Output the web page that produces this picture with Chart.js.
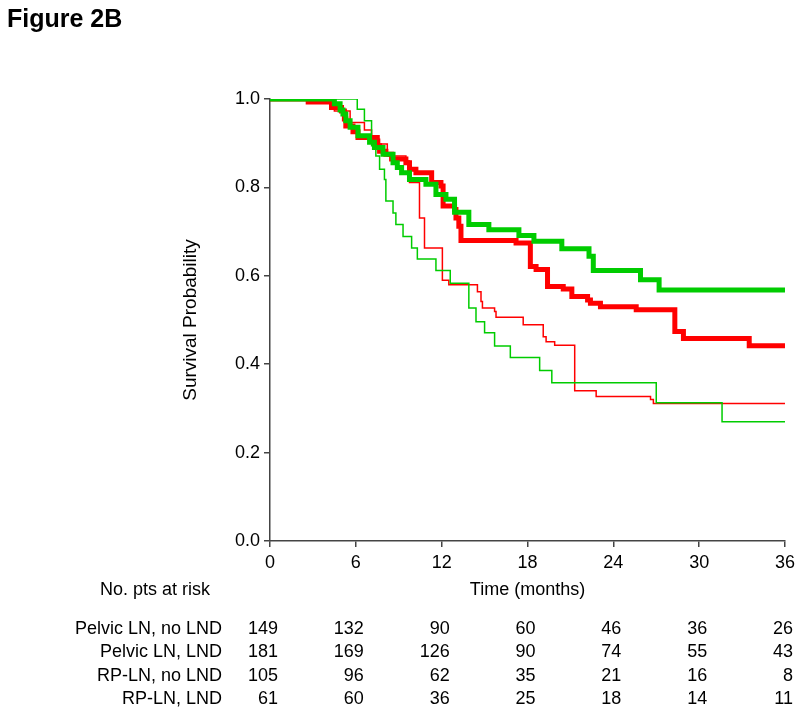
<!DOCTYPE html>
<html>
<head>
<meta charset="utf-8">
<title>Figure 2B</title>
<script src="https://cdn.jsdelivr.net/npm/chart.js@4.4.1/dist/chart.umd.min.js"></script>
<style>
  html, body { margin: 0; padding: 0; background: #fff; }
  #wrap { width: 800px; height: 719px; position: relative; }
</style>
</head>
<body>
<div id="wrap"><canvas id="myChart" width="800" height="719"></canvas></div>
<script>
// Kaplan-Meier steps (month, survival after that month)
const pelvicLndMonths = [0, 4.5, 4.9, 5.1, 5.3, 5.6, 6.15, 6.96, 7.3, 7.9, 8.6, 8.9, 9.2, 9.75, 10.9, 11.6, 12.3, 12.9, 13.9, 15.3, 17.4, 18.45, 20.4, 22.3, 22.6, 25.9, 27.2, 36];
const pelvicLndSurv   = [1.0, 0.989, 0.975, 0.966, 0.951, 0.936, 0.917, 0.902, 0.89, 0.875, 0.856, 0.845, 0.833, 0.818, 0.807, 0.784, 0.773, 0.744, 0.716, 0.704, 0.691, 0.678, 0.661, 0.644, 0.612, 0.591, 0.568, 0.568];

const pelvicNoLndMonths = [0, 2.67, 4.3, 5.0, 5.2, 5.3, 5.8, 6.15, 7.5, 7.66, 8.1, 8.5, 9.5, 9.75, 10.2, 11.3, 11.95, 12.1, 12.9, 13.0, 13.2, 13.35, 17.2, 18.2, 18.6, 19.4, 20.5, 21.1, 22.2, 22.4, 23.1, 25.6, 28.3, 28.9, 33.5, 36];
const pelvicNoLndSurv   = [1.0, 0.993, 0.981, 0.973, 0.955, 0.939, 0.926, 0.913, 0.894, 0.882, 0.875, 0.864, 0.856, 0.841, 0.833, 0.811, 0.803, 0.758, 0.75, 0.731, 0.712, 0.68, 0.674, 0.621, 0.614, 0.576, 0.57, 0.553, 0.545, 0.538, 0.53, 0.523, 0.474, 0.458, 0.442, 0.442];

const rpLndMonths = [0, 6.1, 6.6, 7.1, 7.4, 7.66, 8.0, 8.1, 8.6, 8.8, 9.3, 9.9, 10.3, 11.6, 12.6, 13.9, 14.4, 15.0, 15.7, 16.8, 18.85, 19.7, 27.0, 31.6, 36];
const rpLndSurv   = [1.0, 0.977, 0.951, 0.894, 0.871, 0.841, 0.818, 0.769, 0.742, 0.716, 0.689, 0.663, 0.638, 0.612, 0.583, 0.527, 0.496, 0.471, 0.441, 0.415, 0.386, 0.358, 0.313, 0.27, 0.27];

const rpNoLndMonths = [0, 4.3, 4.5, 5.6, 6.6, 7.1, 7.66, 8.2, 9.5, 9.75, 10.45, 10.8, 12.05, 12.5, 14.5, 14.75, 14.85, 15.7, 15.8, 17.7, 19.1, 19.3, 19.9, 21.3, 22.8, 26.6, 26.8, 36];
const rpNoLndSurv   = [1.0, 0.981, 0.973, 0.947, 0.93, 0.909, 0.898, 0.871, 0.86, 0.811, 0.731, 0.663, 0.59, 0.58, 0.564, 0.542, 0.527, 0.519, 0.506, 0.489, 0.462, 0.451, 0.443, 0.34, 0.327, 0.32, 0.311, 0.311];

// numbers at risk table
const riskMonths = [0, 6, 12, 18, 24, 30, 36];
const riskLabels = ['Pelvic LN, no LND', 'Pelvic LN, LND', 'RP-LN, no LND', 'RP-LN, LND'];
const riskPelvicNoLnd = [149, 132, 90, 60, 46, 36, 26];
const riskPelvicLnd   = [181, 169, 126, 90, 74, 55, 43];
const riskRpNoLnd     = [105, 96, 62, 35, 21, 16, 8];
const riskRpLnd       = [61, 60, 36, 25, 18, 14, 11];

const GREEN = 'rgb(0,204,0)';
const RED = 'rgb(255,0,0)';
const FONT = '"Liberation Sans", Arial, sans-serif';

function pts(months, surv) {
  return months.map((m, i) => ({ x: m, y: surv[i] }));
}

// extra texts: title, axis titles, at-risk table
const extraText = {
  id: 'extraText',
  afterDraw(chart) {
    const c = chart.ctx;
    const xs = chart.scales.x;
    const area = chart.chartArea;
    c.save();
    c.fillStyle = '#000';
    c.textBaseline = 'alphabetic';
    c.textAlign = 'left';
    c.font = 'bold 25px ' + FONT;
    c.fillText('Figure 2B', 7, 27);

    c.font = '19px ' + FONT;
    c.save();
    c.translate(191, (area.top + area.bottom) / 2);
    c.rotate(-Math.PI / 2);
    c.textAlign = 'center';
    c.textBaseline = 'middle';
    c.fillText('Survival Probability', 0, 0);
    c.restore();

    c.font = '18px ' + FONT;
    c.textBaseline = 'middle';
    c.textAlign = 'center';
    c.fillText('Time (months)', (area.left + area.right) / 2, 590);
    c.textAlign = 'right';
    c.fillText('No. pts at risk', 210, 590);

    const rows = [riskPelvicNoLnd, riskPelvicLnd, riskRpNoLnd, riskRpLnd];
    const rowY = [629, 652, 676, 699];
    rows.forEach((row, r) => {
      c.textAlign = 'right';
      c.fillText(riskLabels[r], 222, rowY[r]);
      row.forEach((n, i) => {
        c.fillText(String(n), xs.getPixelForValue(riskMonths[i]) + 8, rowY[r]);
      });
    });
    c.restore();
  }
};

let ctx = document.getElementById('myChart');
let myChart = new Chart(ctx, {
  type: 'line',
  data: {
    datasets: [
      { label: 'Pelvic LN, LND', data: pts(pelvicLndMonths, pelvicLndSurv), borderColor: GREEN, borderWidth: 5, order: 1 },
      { label: 'Pelvic LN, no LND', data: pts(pelvicNoLndMonths, pelvicNoLndSurv), borderColor: RED, borderWidth: 5, order: 2 },
      { label: 'RP-LN, LND', data: pts(rpLndMonths, rpLndSurv), borderColor: GREEN, borderWidth: 1.5, order: 3 },
      { label: 'RP-LN, no LND', data: pts(rpNoLndMonths, rpNoLndSurv), borderColor: RED, borderWidth: 1.5, order: 4 }
    ]
  },
  options: {
    responsive: false,
    animation: false,
    layout: { padding: { left: 0, right: 12, top: 99, bottom: 0 } },
    elements: {
      line: { stepped: true, fill: false, borderCapStyle: 'butt', borderJoinStyle: 'miter' },
      point: { radius: 0, hoverRadius: 0 }
    },
    plugins: {
      legend: { display: false },
      tooltip: { enabled: false }
    },
    scales: {
      x: {
        type: 'linear',
        min: 0,
        max: 36,
        afterFit(scale) { scale.height = 178; },
        ticks: { stepSize: 6, color: '#000', padding: 5, font: { family: FONT, size: 18 }, maxRotation: 0 },
        grid: { drawOnChartArea: false, drawTicks: true, tickLength: 6, color: '#444', lineWidth: 1.5 },
        border: { color: '#444', width: 1.5 }
      },
      y: {
        min: 0,
        max: 1,
        afterFit(scale) { scale.width = 270; },
        ticks: { stepSize: 0.2, color: '#000', padding: 4, font: { family: FONT, size: 18 },
                 callback: v => v.toFixed(1) },
        grid: { drawOnChartArea: false, drawTicks: true, tickLength: 6, color: '#444', lineWidth: 1.5 },
        border: { color: '#444', width: 1.5 }
      }
    }
  },
  plugins: [extraText]
});
</script>
</body>
</html>
